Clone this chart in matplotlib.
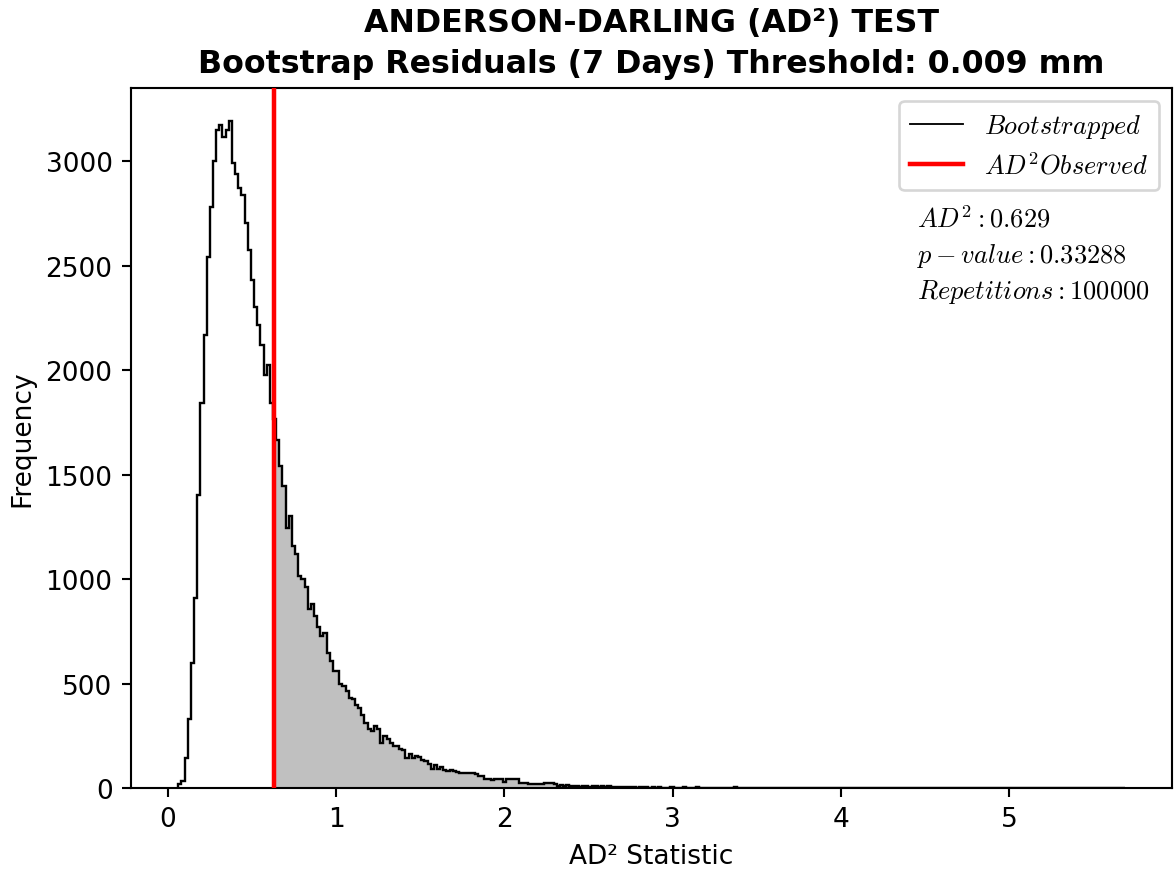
import numpy as np
import matplotlib
matplotlib.use("Agg")
import matplotlib.pyplot as plt
from matplotlib.lines import Line2D

plt.rcParams["mathtext.fontset"] = "cm"

# Bootstrapped AD^2 statistics, binned (300 equal bins)
ad2_lo = 0.062
ad2_hi = 5.686
boot_counts = [
    17, 33, 145, 330, 600, 910, 1400, 1840, 2170, 2540,
    2780, 3000, 3150, 3174, 3113, 3150, 3190, 2990, 2940, 2870,
    2838, 2703, 2574, 2430, 2303, 2215, 2119, 1975, 2023, 1840,
    1767, 1663, 1543, 1447, 1245, 1303, 1160, 1120, 1016, 1000,
    960, 856, 880, 824, 770, 728, 744, 648, 608, 560,
    560, 500, 488, 464, 433, 424, 395, 385, 350, 313,
    281, 273, 296, 281, 215, 248, 235, 215, 200, 200,
    188, 182, 145, 165, 145, 155, 150, 135, 129, 113,
    92, 108, 92, 100, 85, 81, 84, 80, 75, 73,
    70, 70, 72, 71, 68, 57, 57, 44, 44, 40,
    41, 42, 44, 28, 44, 42, 44, 42, 25, 24,
    22, 21, 21, 20, 20, 20, 25, 23, 24, 17,
    9, 12, 9, 12, 8, 9, 10, 6, 9, 11,
    7, 8, 10, 6, 9, 7, 8, 4, 5, 3,
    4, 5, 3, 4, 3, 2, 4, 3, 3, 2,
    3, 2, 3, 2, 2, 1, 3, 1, 2, 1,
    3, 2, 1, 2, 3, 1, 1, 2, 1, 0,
    2, 1, 1, 2, 0, 1, 3, 1, 0, 1,
    1, 1, 0, 0, 1, 0, 1, 0, 0, 2,
    0, 0, 1, 0, 0, 0, 1, 0, 0, 0,
    0, 1, 0, 0, 0, 0, 0, 1, 0, 0,
    0, 0, 0, 1, 0, 0, 0, 0, 0, 0,
    0, 0, 1, 0, 0, 0, 0, 0, 0, 0,
    0, 0, 0, 0, 0, 0, 1, 0, 0, 0,
    0, 0, 0, 0, 0, 0, 0, 0, 0, 0,
    0, 0, 1, 0, 0, 0, 0, 0, 0, 0,
    0, 0, 0, 0, 0, 0, 0, 0, 0, 0,
    0, 0, 0, 0, 0, 0, 0, 0, 0, 0,
    0, 0, 0, 0, 0, 0, 0, 0, 0, 0,
    0, 0, 0, 0, 0, 0, 0, 0, 0, 1,
]

ad2_observed = 0.629
p_value = 0.33288
repetitions = 100000

title_lines = ["ANDERSON-DARLING (AD\u00b2) TEST",
               "Bootstrap Residuals (7 Days) Threshold: 0.009 mm"]
x_label = "AD\u00b2 Statistic"
y_label = "Frequency"

counts = np.asarray(boot_counts, dtype=float)
edges = np.linspace(ad2_lo, ad2_hi, len(counts) + 1)

DPI = 190
fig = plt.figure(figsize=(1174 / DPI, 870 / DPI), dpi=DPI)
ax = fig.add_axes([0.1116, 0.0931, 0.8867, 0.8046])

# shaded area: bootstrapped values at or above the observed statistic
k = np.searchsorted(edges, ad2_observed, side="right") - 1
fill_edges = np.concatenate([[ad2_observed], edges[k + 1:]])
ax.stairs(counts[k:], fill_edges, fill=True, color="#c0c0c0", lw=0, zorder=1)

# step outline of the bootstrap distribution
ax.stairs(counts, edges, baseline=0, color="black", lw=0.9, zorder=2)
ax.margins(x=0.05, y=0.05)
ax.set_ylim(bottom=0)

ax.axvline(ad2_observed, color="red", lw=1.7, zorder=3)

handles = [Line2D([], [], color="black", lw=0.7),
           Line2D([], [], color="red", lw=1.7)]
ax.legend(handles, [r"$Bootstrapped$", r"$AD^2 Observed$"],
          loc="upper right", fontsize=10)

stats_lines = [rf"$AD^2: {ad2_observed}$",
               rf"$p-value: {p_value}$",
               rf"$Repetitions: {repetitions}$"]
for i, s in enumerate(stats_lines):
    ax.text(0.755, 0.813 - i * 0.0515, s, transform=ax.transAxes,
            fontsize=10, va="center", ha="left")

ax.set_title("\n".join(title_lines), fontsize=12, fontweight="bold",
             linespacing=1.42)
ax.set_xlabel(x_label)
ax.set_ylabel(y_label)

fig.savefig("out.png", dpi=DPI)
